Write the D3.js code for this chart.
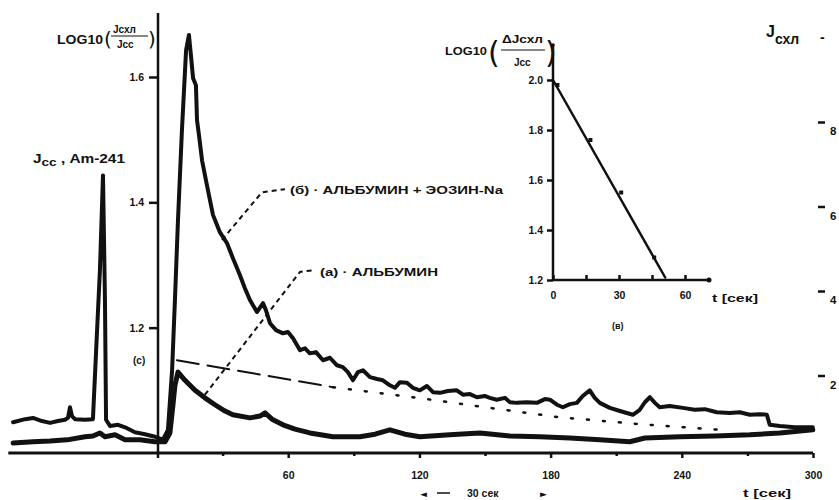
<!DOCTYPE html>
<meta charset="utf-8">
<style>
body { margin: 0; background: #fff; }
text { font-family: "Liberation Sans", Arial, sans-serif; font-weight: bold; fill: #111; }
.curve { fill: none; stroke: #111; stroke-linejoin: round; stroke-linecap: round; }
.axis path { display: none; }
.axis line { stroke: #111; stroke-width: 2.5; }
.axis text { font-family: "Liberation Sans", Arial, sans-serif; font-weight: bold; font-size: 10.5px; fill: #111; }
.leader { fill: none; stroke: #111; stroke-width: 2; }
.paren { font-family: "DejaVu Sans", sans-serif; font-weight: normal; }
</style>
<svg width="839" height="500"></svg>
<script src="https://cdn.jsdelivr.net/npm/d3@7"></script>
<script>

// upper trace (б) albumin + eosin-Na, t in sec, value on LOG10 scale
var tUpper = [-65.8,-60.3,-56.7,-52.6,-48.9,-45.3,-42.1,-40.7,-39.8,-38.9,-37.5,-32.9,-29.3,-27.4,-26.1,-24.7,-23.8,-23.3,-21.5,-17.8,-14.6,-10.1,-5.5,-0.9,2.7,5.0,6.9,8.2,9.6,11.4,13.3,14.6,15.5,16.5,17.8,18.3,19.2,20.6,22.4,24.2,25.6,28.8,32.0,34.7,37.9,40.2,42.5,45.7,48.5,49.8,51.7,54.4,57.6,59.9,62.2,65.4,67.7,69.9,72.7,75.9,79.1,82.3,85.0,87.3,89.6,91.9,94.2,97.4,100.6,103.3,106.5,108.8,111.1,114.3,117.0,120.2,123.4,126.2,129.4,133.0,137.1,139.9,143.1,146.3,149.9,152.2,155.4,159.1,161.4,164.6,169.1,173.7,177.4,179.7,182.9,185.6,188.8,192.0,194.7,197.9,200.2,202.5,207.1,211.7,217.6,220.8,223.1,225.4,227.7,229.9,234.5,240.5,245.9,250.5,256.0,261.9,266.5,271.1,275.7,278.9,280.2,284.8,291.7,299.9];
var vUpper = [1.049,1.054,1.056,1.051,1.048,1.051,1.053,1.056,1.073,1.059,1.054,1.053,1.054,1.196,1.292,1.443,1.244,1.053,1.043,1.045,1.041,1.033,1.030,1.026,1.021,1.037,1.132,1.244,1.372,1.515,1.643,1.667,1.635,1.598,1.587,1.531,1.507,1.467,1.435,1.404,1.380,1.352,1.335,1.311,1.284,1.263,1.244,1.225,1.239,1.228,1.207,1.196,1.191,1.193,1.183,1.164,1.167,1.159,1.161,1.148,1.152,1.140,1.137,1.129,1.116,1.129,1.132,1.121,1.118,1.116,1.108,1.104,1.113,1.112,1.104,1.100,1.107,1.097,1.096,1.099,1.100,1.093,1.094,1.089,1.091,1.088,1.085,1.088,1.081,1.080,1.081,1.080,1.086,1.085,1.077,1.073,1.078,1.080,1.091,1.100,1.088,1.080,1.072,1.067,1.061,1.069,1.081,1.089,1.080,1.073,1.075,1.072,1.069,1.070,1.065,1.064,1.065,1.061,1.062,1.061,1.045,1.043,1.041,1.041];

// lower trace (а) albumin
var tLower = [-65.8,-56.7,-48.9,-41.1,-32.9,-29.3,-26.1,-23.8,-19.2,-14.6,-7.8,-0.9,3.7,5.9,7.3,8.2,9.6,12.8,17.4,21.9,26.5,31.1,34.7,42.5,47.1,49.4,52.6,57.6,63.1,69.9,80.5,92.8,99.7,106.5,113.4,120.2,133.9,147.7,161.4,175.1,188.8,202.5,216.2,223.1,239.1,255.1,271.1,284.8,299.9];
var vLower = [1.016,1.018,1.019,1.021,1.026,1.027,1.032,1.026,1.029,1.021,1.021,1.018,1.018,1.032,1.077,1.108,1.129,1.116,1.100,1.088,1.077,1.067,1.061,1.056,1.059,1.064,1.054,1.045,1.038,1.032,1.026,1.026,1.030,1.037,1.030,1.026,1.029,1.032,1.027,1.026,1.024,1.021,1.018,1.024,1.026,1.027,1.029,1.032,1.037];

// (с) background fit, dashed then dotted
var tFitDash = [9.1, 42.5, 80.5];
var vFitDash = [1.148, 1.128, 1.105];
var tFitDot = [80.5, 117.0, 152.2, 184.2, 220.8, 257.4];
var vFitDot = [1.105, 1.089, 1.072, 1.057, 1.046, 1.037];

// leader lines for the labels
var tLeadB = [29.7, 48.0, 58.5], vLeadB = [1.340, 1.416, 1.421];
var tLeadA = [21.9, 65.4, 72.2], vLeadA = [1.093, 1.289, 1.292];

var xTicks = [60, 120, 180, 240, 300];
var xMinor = [30, 90, 150, 210, 270];
var yTicks = [1.2, 1.4, 1.6];
var jTicks = [2, 4, 6, 8];

// inset (в)
var tInset = [2, 17, 31, 46];
var vInset = [1.98, 1.76, 1.55, 1.29];
var tInsetFit = [0, 51];
var vInsetFit = [2.0, 1.21];
var xiTicks = [0, 15, 30, 45, 60];
var yiTicks = [1.2, 1.4, 1.6, 1.8, 2.0];

var svg = d3.select("svg");

var x = d3.scaleLinear().domain([0, 300]).range([157, 813]);
var y = d3.scaleLinear().domain([1.0, 1.6]).range([453, 77]);
var yJ = d3.scaleLinear().domain([0, 8]).range([460, 122]);

var line = d3.line().x(function(d) { return x(d[0]); }).y(function(d) { return y(d[1]); });

// main axes
svg.append("line").attr("x1", x(-68)).attr("x2", x(300)).attr("y1", 453).attr("y2", 453)
    .attr("stroke", "#111").attr("stroke-width", 3);
svg.append("line").attr("x1", 158).attr("x2", 158).attr("y1", 13).attr("y2", 458)
    .attr("stroke", "#111").attr("stroke-width", 2.5);

svg.append("g").attr("class", "axis").attr("transform", "translate(0,453)")
    .call(d3.axisBottom(x).tickValues(xTicks).tickSize(5).tickPadding(14));
svg.append("g").attr("class", "axis").attr("transform", "translate(0,453)")
    .call(d3.axisBottom(x).tickValues(xMinor).tickSize(3).tickFormat(""));

svg.append("g").attr("class", "axis").attr("transform", "translate(158,0)")
    .call(d3.axisLeft(y).tickValues(yTicks).tickSize(9).tickPadding(5).tickFormat(d3.format(".1f")));

// right J axis
svg.append("g").attr("class", "axis").attr("transform", "translate(825,0)")
    .call(d3.axisLeft(yJ).tickValues(jTicks).tickSize(7).tickFormat(""));
svg.selectAll(".jlab").data(jTicks).enter().append("text")
    .attr("x", 830).attr("y", function(d) { return yJ(d) + 13; })
    .attr("font-size", 11.5).text(function(d) { return d; });

var jl = svg.append("text").attr("x", 766).attr("y", 37).attr("font-size", 16);
jl.append("tspan").text("J");
jl.append("tspan").attr("dy", 7).attr("font-size", 14).text("схл");
svg.append("text").attr("x", 820).attr("y", 42).attr("font-size", 14).text("-");

// fit line
svg.append("path").datum(d3.zip(tFitDash, vFitDash)).attr("class", "curve")
    .attr("stroke-width", 2).attr("stroke-dasharray", "22,9").attr("stroke-linecap", "butt").attr("d", line);
svg.append("path").datum(d3.zip(tFitDot, vFitDot)).attr("class", "curve")
    .attr("stroke-width", 2.5).attr("stroke-dasharray", "2,14").attr("d", line);

// curves
svg.append("path").datum(d3.zip(tLower, vLower)).attr("class", "curve")
    .attr("stroke-width", 5).attr("d", line);
svg.append("path").datum(d3.zip(tUpper, vUpper)).attr("class", "curve")
    .attr("stroke-width", 4).attr("d", line);

// leaders
svg.append("path").datum(d3.zip(tLeadB, vLeadB)).attr("class", "leader")
    .attr("stroke-dasharray", "5,4").attr("d", line);
svg.append("path").datum(d3.zip(tLeadA, vLeadA)).attr("class", "leader")
    .attr("stroke-dasharray", "5,4").attr("d", line);

svg.append("text").attr("x", 290).attr("y", 194).attr("font-size", 10.5)
    .attr("textLength", 213).attr("lengthAdjust", "spacingAndGlyphs")
    .text("(б) · АЛЬБУМИН + ЭОЗИН-Na");
svg.append("text").attr("x", 320).attr("y", 276).attr("font-size", 10.5)
    .attr("textLength", 118).attr("lengthAdjust", "spacingAndGlyphs")
    .text("(а) · АЛЬБУМИН");

// main y label
svg.append("text").attr("x", 57).attr("y", 44).attr("font-size", 12)
    .attr("textLength", 46).attr("lengthAdjust", "spacingAndGlyphs").text("LOG10");
svg.append("text").attr("class", "paren").attr("x", 104).attr("y", 46).attr("font-size", 20).text("(");
svg.append("text").attr("x", 113).attr("y", 33).attr("font-size", 10).text("Jсхл");
svg.append("line").attr("x1", 111).attr("x2", 148).attr("y1", 36).attr("y2", 36).attr("stroke", "#111").attr("stroke-width", 1.2);
svg.append("text").attr("x", 117).attr("y", 48).attr("font-size", 10).text("Jсс");
svg.append("text").attr("class", "paren").attr("x", 148).attr("y", 46).attr("font-size", 20).text(")");

svg.append("text").attr("x", 133).attr("y", y(1.148) + 4).attr("font-size", 10).text("(с)");

var am = svg.append("text").attr("x", 33).attr("y", 163).attr("font-size", 12.5)
    .attr("textLength", 92).attr("lengthAdjust", "spacingAndGlyphs");
am.append("tspan").text("J");
am.append("tspan").attr("dy", 3).attr("font-size", 11).text("сс");
am.append("tspan").attr("dy", -3).text(" , Am-241");

// bottom notes
svg.append("text").attr("class", "paren").attr("x", 420).attr("y", 497).attr("font-size", 9).text("◄");
svg.append("line").attr("x1", 437).attr("x2", 450).attr("y1", 493).attr("y2", 493).attr("stroke", "#111").attr("stroke-width", 1.5);
svg.append("text").attr("x", 467).attr("y", 497).attr("font-size", 10.5).text("30 сек");
svg.append("text").attr("class", "paren").attr("x", 540).attr("y", 497).attr("font-size", 9).text("►");
svg.append("text").attr("x", 743).attr("y", 497).attr("font-size", 10.5)
    .attr("textLength", 48).attr("lengthAdjust", "spacingAndGlyphs").text("t [сек]");

// inset
var xi = d3.scaleLinear().domain([0, 60]).range([553, 685]);
var yi = d3.scaleLinear().domain([1.2, 2.0]).range([280, 80]);

svg.append("line").attr("x1", 553).attr("x2", 553).attr("y1", 45).attr("y2", 281)
    .attr("stroke", "#111").attr("stroke-width", 2.5);
svg.append("line").attr("x1", 553).attr("x2", 708).attr("y1", 280).attr("y2", 280)
    .attr("stroke", "#111").attr("stroke-width", 2.5);
svg.append("circle").attr("cx", 709).attr("cy", 280).attr("r", 2.5).attr("fill", "#111");
svg.append("circle").attr("cx", 553).attr("cy", 45).attr("r", 1.8).attr("fill", "#111");

svg.append("g").attr("class", "axis").attr("transform", "translate(553,0)")
    .call(d3.axisLeft(yi).tickValues(yiTicks).tickSize(6).tickPadding(4).tickFormat(d3.format(".1f")));
svg.append("g").attr("class", "axis").attr("transform", "translate(0,280)")
    .call(d3.axisBottom(xi).tickValues(xiTicks).tickSize(-5).tickPadding(12)
      .tickFormat(function(d) { return d % 30 === 0 ? d : ""; }));

var iline = d3.line().x(function(d) { return xi(d[0]); }).y(function(d) { return yi(d[1]); });
svg.append("path").datum(d3.zip(tInsetFit, vInsetFit)).attr("class", "curve")
    .attr("stroke-width", 2.5).attr("d", iline);
svg.selectAll(".ipt").data(d3.zip(tInset, vInset)).enter().append("rect")
    .attr("x", function(d) { return xi(d[0]) - 2; })
    .attr("y", function(d) { return yi(d[1]) - 2; })
    .attr("width", 4).attr("height", 4).attr("fill", "#111");

svg.append("text").attr("x", 445).attr("y", 55).attr("font-size", 11)
    .attr("textLength", 42).attr("lengthAdjust", "spacingAndGlyphs").text("LOG10");
svg.append("text").attr("class", "paren").attr("x", 488).attr("y", 63).attr("font-size", 30).text("(");
svg.append("text").attr("x", 502).attr("y", 43).attr("font-size", 10)
    .attr("textLength", 41).attr("lengthAdjust", "spacingAndGlyphs").text("ΔJсхл");
svg.append("line").attr("x1", 501).attr("x2", 545).attr("y1", 50).attr("y2", 50).attr("stroke", "#111").attr("stroke-width", 1.2);
svg.append("text").attr("x", 514).attr("y", 66).attr("font-size", 10).text("Jсс");
svg.append("text").attr("class", "paren").attr("x", 545).attr("y", 63).attr("font-size", 30).text(")");

svg.append("text").attr("x", 712).attr("y", 302).attr("font-size", 10)
    .attr("textLength", 46).attr("lengthAdjust", "spacingAndGlyphs").text("t [сек]");
svg.append("text").attr("x", 612).attr("y", 329).attr("font-size", 9).text("(в)");

</script>
